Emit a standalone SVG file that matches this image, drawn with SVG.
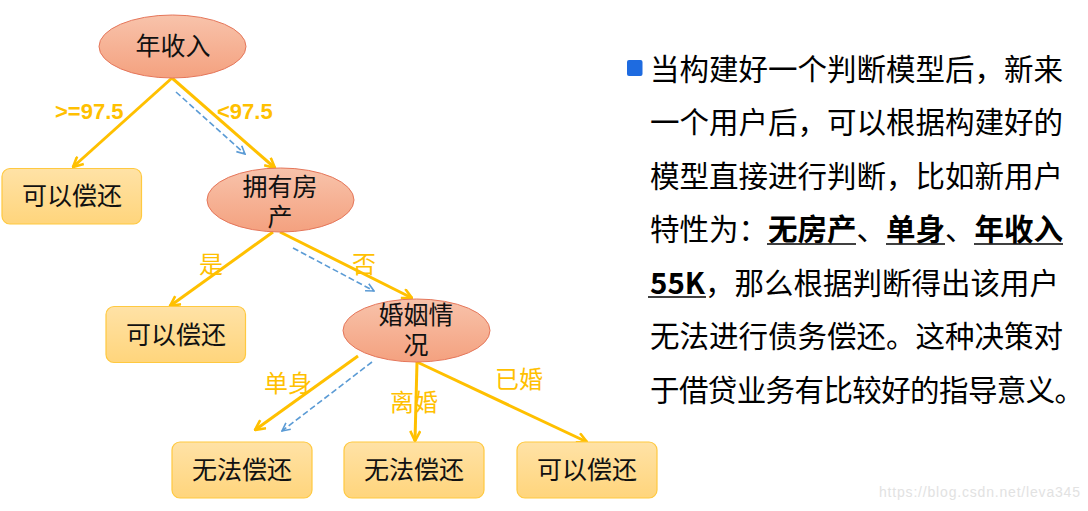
<svg xmlns="http://www.w3.org/2000/svg" width="1088" height="511" viewBox="0 0 1088 511">
<style>
.nt{font-family:"Noto Sans CJK SC","Noto Sans",sans-serif;font-size:25px;fill:#111;text-anchor:middle;}
.lb{font-family:"Noto Sans CJK SC","Noto Sans",sans-serif;font-size:24px;fill:#FFC000;text-anchor:middle;}
.num{font-family:"Liberation Sans",Arial,sans-serif;font-weight:bold;font-size:22px;fill:#FFC000;}
.ell{fill:url(#gE);stroke:#E5765A;stroke-width:1;}
.box{fill:url(#gB);stroke:#FFC940;stroke-width:1.2;}
.yl{stroke:#FFC000;stroke-width:3;fill:none;marker-end:url(#aY);}
.bl{stroke:#5B9BD5;stroke-width:1.6;fill:none;stroke-dasharray:6 3;marker-end:url(#aB);}
.tx{font-family:"Noto Sans CJK SC","Noto Sans",sans-serif;font-size:29.5px;fill:#000;}
.b{font-weight:bold;}
.ul{stroke:#000;stroke-width:1.5;}
</style>
<defs>
<linearGradient id="gE" x1="0" y1="0" x2="0" y2="1">
<stop offset="0" stop-color="#F8C3AB"/>
<stop offset="1" stop-color="#F4A17F"/>
</linearGradient>
<linearGradient id="gB" x1="0" y1="0" x2="0" y2="1">
<stop offset="0" stop-color="#FFE2A6"/>
<stop offset="1" stop-color="#FFD57C"/>
</linearGradient>
<marker id="aY" viewBox="0 0 12 12" refX="11" refY="6" markerWidth="12" markerHeight="12" markerUnits="userSpaceOnUse" orient="auto">
<path d="M1,1 L11,6 L1,11" fill="none" stroke="#FFC000" stroke-width="2.6"/>
</marker>
<marker id="aB" viewBox="0 0 10 10" refX="9" refY="5" markerWidth="10" markerHeight="10" markerUnits="userSpaceOnUse" orient="auto">
<path d="M1,1 L9,5 L1,9" fill="none" stroke="#5B9BD5" stroke-width="1.6"/>
</marker>
</defs>
<rect width="1088" height="511" fill="#fff"/>

<g id="connectors">
<line class="yl" x1="172" y1="78" x2="73" y2="167"/>
<line class="yl" x1="172" y1="78" x2="275" y2="168"/>
<line class="bl" x1="176" y1="92" x2="245" y2="154"/>
<line class="yl" x1="273" y1="232" x2="170" y2="306"/>
<line class="yl" x1="280" y1="232" x2="412" y2="298"/>
<line class="bl" x1="293" y1="248" x2="374" y2="291"/>
<line class="yl" x1="358" y1="356" x2="255" y2="430"/>
<line class="bl" x1="372" y1="362" x2="282" y2="431"/>
<line class="yl" x1="417" y1="362" x2="415" y2="441"/>
<line class="yl" x1="417" y1="362" x2="587" y2="442"/>
<text class="num" x="55" y="119">&gt;=97.5</text>
<text class="num" x="217" y="119">&lt;97.5</text>
<text class="lb" x="211" y="273">是</text>
<text class="lb" x="364" y="273">否</text>
<text class="lb" x="288" y="392">单身</text>
<text class="lb" x="414" y="411">离婚</text>
<text class="lb" x="519" y="388">已婚</text>
</g>

<g id="n-income">
<ellipse class="ell" cx="172.5" cy="46.5" rx="73.5" ry="31.5"/>
<text class="nt" x="173" y="55">年收入</text>
</g>
<g id="n-house">
<ellipse class="ell" cx="280.5" cy="200" rx="73.5" ry="32"/>
<text class="nt" x="280" y="195.5">拥有房<tspan x="280" dy="30">产</tspan></text>
</g>
<g id="n-marriage">
<ellipse class="ell" cx="416.5" cy="330.5" rx="73.5" ry="31.5"/>
<text class="nt" x="416" y="324">婚姻情<tspan x="416" dy="30">况</tspan></text>
</g>
<g id="n-repay1">
<rect class="box" x="2" y="168.5" width="139.5" height="55.5" rx="8"/>
<text class="nt" x="72" y="205">可以偿还</text>
</g>
<g id="n-repay2">
<rect class="box" x="106" y="306.5" width="139.5" height="56" rx="8"/>
<text class="nt" x="176" y="343.5">可以偿还</text>
</g>
<g id="n-norepay1">
<rect class="box" x="172" y="442" width="140" height="56" rx="8"/>
<text class="nt" x="242" y="479">无法偿还</text>
</g>
<g id="n-norepay2">
<rect class="box" x="344" y="442" width="140" height="56" rx="8"/>
<text class="nt" x="414" y="479">无法偿还</text>
</g>
<g id="n-repay3">
<rect class="box" x="517" y="442" width="140" height="56" rx="8"/>
<text class="nt" x="587" y="479">可以偿还</text>
</g>

<g id="description">
<rect x="627" y="60" width="15.5" height="16" rx="2" fill="#1E6BE0"/>
<text class="tx" x="650" y="79.5">当构建好一个判断模型后，新来</text>
<text class="tx" x="650" y="133">一个用户后，可以根据构建好的</text>
<text class="tx" x="650" y="186.5">模型直接进行判断，比如新用户</text>
<text class="tx" x="650" y="240">特性为：<tspan class="b">无房产</tspan>、<tspan class="b">单身</tspan>、<tspan class="b">年收入</tspan></text>
<text class="tx" x="650" y="293.5"><tspan class="b">55K</tspan>，那么根据判断得出该用户</text>
<text class="tx" x="650" y="347">无法进行债务偿还。这种决策对</text>
<text class="tx" x="650" y="400.5" letter-spacing="-0.6">于借贷业务有比较好的指导意义。</text>
<line class="ul" x1="767" y1="244" x2="856" y2="244"/>
<line class="ul" x1="886" y1="244" x2="945" y2="244"/>
<line class="ul" x1="974" y1="244" x2="1063" y2="244"/>
<line class="ul" x1="648" y1="297" x2="706" y2="297"/>
</g>

<text x="879" y="497" font-family="Liberation Sans,Arial,sans-serif" font-size="14" fill="#E2E2E2" textLength="201">https://blog.csdn.net/leva345</text>
</svg>
